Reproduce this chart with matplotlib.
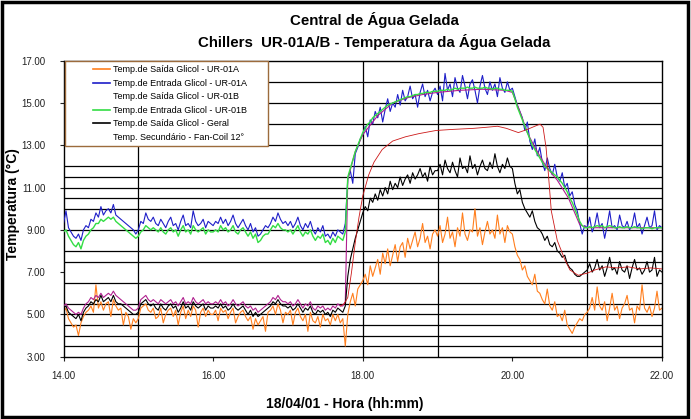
import numpy as np
import matplotlib
matplotlib.use("Agg")
import matplotlib.pyplot as plt
from matplotlib.lines import Line2D
from matplotlib.legend_handler import HandlerLine2D
from matplotlib.patches import Rectangle

plt.rcParams['font.family'] = ['Liberation Sans', 'DejaVu Sans']

# readings every 2 minutes, 14:00 .. 22:00
step_h = 2 / 60.0

saida_01a = [
    5.1, 5.3, 4.8, 4.6, 4.4, 4.5, 4.0, 4.6, 4.9, 5.1, 5.2, 5.4, 5.1, 6.4, 5.3, 5.6, 5.2, 5.5, 5.6, 4.9, 5.7, 5.4, 5.2, 5.3, 4.5, 5.1, 4.9, 4.3, 4.8, 4.6,
    4.8, 5.3, 5.4, 5.5, 5.2, 5.1, 5.3, 4.8, 4.9, 5.3, 4.6, 5.0, 5.2, 5.3, 4.9, 5.2, 4.5, 5.1, 5.4, 4.8, 5.2, 4.9, 5.4, 5.2, 4.4, 5.1, 5.3, 4.9, 5.2, 5.0,
    5.0, 5.2, 4.7, 5.3, 5.1, 5.2, 4.8, 5.1, 5.3, 4.6, 4.9, 5.1, 5.2, 4.9, 4.7, 4.9, 4.3, 4.8, 4.5, 4.7, 4.9, 4.2, 5.1, 5.2, 5.4, 5.0, 5.5, 5.2, 4.6, 5.1,
    5.0, 5.2, 4.5, 5.1, 5.3, 4.9, 4.7, 5.0, 4.2, 5.1, 4.7, 4.6, 4.9, 4.4, 5.0, 4.7, 4.8, 4.5, 5.0, 4.7, 5.0, 4.6, 4.8, 3.5, 5.0, 5.6, 6.0, 5.4, 6.2, 6.4,
    6.6, 6.9, 6.4, 7.3, 6.8, 7.2, 7.6, 6.9, 7.9, 7.4, 8.1, 7.3, 7.8, 8.3, 7.5, 8.2, 8.4, 7.7, 8.6, 8.1, 8.5, 8.9, 8.2, 8.6, 9.3, 8.4, 8.7, 8.1, 8.8, 9.0,
    8.7, 9.2, 8.4, 8.8, 9.6, 8.6, 8.9, 8.2, 9.1, 8.7, 9.8, 8.8, 8.5, 9.0, 8.9, 10.0, 8.7, 9.1, 8.3, 8.9, 9.4, 8.8, 9.0, 8.6, 9.7, 8.8, 9.1, 8.4, 9.2, 8.9,
    8.8, 8.2, 7.8, 7.6, 7.1, 7.3, 6.8, 6.6, 6.4, 6.9, 6.1, 6.0, 5.7, 5.5, 6.2, 5.4, 5.2, 5.6, 4.9, 5.0, 4.7, 5.2, 4.5, 4.3, 4.1, 4.4, 4.6, 4.8, 4.7, 5.0,
    5.1, 5.3, 5.8, 5.2, 6.3, 5.4, 5.2, 5.6, 4.7, 5.3, 6.0, 5.2, 5.4, 4.8, 5.3, 5.5, 5.9, 5.2, 5.3, 4.6, 5.4, 5.2, 6.4, 5.3, 5.1, 5.4, 4.9, 5.3, 6.1, 5.2,
    5.3]

entrada_01a = [
    9.3, 9.9, 9.1, 8.9, 8.7, 8.6, 8.8, 8.5, 9.0, 9.2, 9.1, 9.5, 9.4, 9.8, 9.6, 10.1, 9.7, 9.9, 10.0, 9.8, 10.2, 9.7, 9.6, 9.5, 9.4, 9.3, 9.2, 9.1, 9.0, 8.8,
    9.0, 9.4, 9.3, 9.8, 9.5, 9.4, 9.6, 9.3, 9.2, 9.5, 9.3, 9.1, 9.4, 9.6, 9.2, 9.3, 9.0, 9.4, 9.7, 9.2, 9.3, 9.1, 9.9, 9.4, 9.2, 9.3, 9.5, 9.1, 9.4, 9.3,
    9.2, 9.4, 9.3, 9.6, 9.3, 9.5, 9.2, 9.4, 9.7, 9.3, 9.1, 9.3, 9.5, 9.2, 9.0, 9.3, 8.9, 9.1, 8.7, 8.8, 9.0, 9.2, 9.1, 9.3, 9.6, 9.4, 9.8, 9.5, 9.3, 9.4,
    9.2, 9.4, 9.1, 9.3, 9.6, 9.2, 9.0, 9.3, 9.1, 9.4, 9.0, 8.8, 9.1, 8.9, 9.2, 8.7, 8.8, 8.6, 8.9, 8.7, 9.0, 8.9, 8.8, 9.3, 11.4, 11.8, 11.2, 12.6, 12.9, 13.3,
    13.5, 13.9, 13.4, 14.2, 14.0, 14.6, 14.3, 14.8, 14.1, 14.7, 15.2, 14.6, 15.0, 14.8, 15.4, 14.9, 15.6, 15.1, 15.3, 15.8, 15.2, 15.4, 14.8, 15.5, 15.9, 15.3, 15.6, 15.1, 15.5, 15.7,
    15.4, 15.8, 15.1, 16.4, 15.6, 15.9, 15.3, 16.2, 15.7, 15.5, 16.3, 15.8, 15.2, 15.9, 16.1, 15.6, 15.0, 15.8, 16.3, 15.7, 15.4, 16.0, 15.6, 15.9, 15.3, 16.2, 15.7, 15.5, 16.0, 15.6,
    15.7, 15.3, 14.9, 14.6, 14.3, 13.7, 14.1, 13.2, 12.8, 13.3, 12.5, 12.9, 12.2, 11.8, 12.4, 11.9, 11.6, 12.1, 11.5, 11.3, 11.7, 11.0, 11.2, 10.6, 10.8, 10.2, 9.9, 9.3, 8.8, 9.2,
    9.1, 9.6, 8.9, 9.2, 9.8, 9.1, 9.3, 8.6, 9.2, 9.9, 9.1, 9.2, 9.0, 9.7, 9.2, 9.1, 9.4, 9.0, 9.2, 9.8, 9.1, 9.3, 8.8, 9.2, 9.6, 9.1, 9.2, 9.9, 9.0, 9.2,
    9.1]

# saida UR-01B: 2-minute readings until 17:46, then sparse readings (runs under the green trace)
saida_01b_a = [
    5.4, 5.5, 5.3, 5.2, 5.1, 5.0, 5.1, 5.0, 5.3, 5.5, 5.6, 5.8, 5.7, 5.9, 5.8, 6.0, 5.8, 5.9, 6.0, 5.9, 6.1, 5.9, 5.8, 5.7, 5.6, 5.5, 5.4, 5.3, 5.2, 5.2,
    5.3, 5.7, 5.8, 5.9, 5.7, 5.6, 5.7, 5.6, 5.5, 5.7, 5.6, 5.5, 5.6, 5.7, 5.5, 5.6, 5.4, 5.6, 5.8, 5.5, 5.6, 5.5, 5.8, 5.6, 5.5, 5.6, 5.7, 5.5, 5.6, 5.5,
    5.5, 5.6, 5.5, 5.7, 5.5, 5.6, 5.4, 5.5, 5.7, 5.5, 5.4, 5.5, 5.6, 5.4, 5.3, 5.4, 5.2, 5.3, 5.1, 5.2, 5.3, 5.4, 5.5, 5.6, 5.8, 5.7, 5.9, 5.7, 5.6, 5.6,
    5.5, 5.6, 5.4, 5.5, 5.7, 5.5, 5.3, 5.5, 5.4, 5.6, 5.3, 5.2, 5.4, 5.3, 5.4, 5.2, 5.3, 5.2, 5.4, 5.3, 5.5, 5.4, 5.4, 5.6]
saida_01b_t2 = [17.8, 17.9, 18.0, 18.2, 18.4, 18.6, 18.8, 19.0, 19.3, 19.6, 19.9, 20.0, 20.1, 20.2, 20.3, 20.45, 20.6, 20.75, 20.9, 21.0, 21.5, 22.0]
saida_01b_v2 = [11.4, 12.7, 13.5, 14.4, 15.0, 15.25, 15.4, 15.5, 15.6, 15.65, 15.6, 15.5, 14.6, 13.6, 12.9, 12.0, 11.35, 10.5, 9.25, 9.1, 9.1, 9.1]

entrada_01b = [
    8.9, 9.0, 8.7, 8.5, 8.3, 8.2, 8.4, 8.1, 8.5, 8.7, 8.8, 9.0, 9.1, 9.3, 9.3, 9.5, 9.4, 9.5, 9.6, 9.5, 9.6, 9.4, 9.3, 9.2, 9.1, 9.0, 8.9, 8.8, 8.7, 8.6,
    8.7, 8.9, 9.0, 9.2, 9.1, 9.0, 9.1, 9.0, 8.9, 9.1, 8.9, 8.8, 9.0, 9.1, 8.9, 9.0, 8.7, 9.0, 9.2, 8.9, 9.0, 8.8, 9.2, 9.0, 8.9, 9.0, 9.1, 8.8, 9.0, 8.9,
    8.9, 9.0, 8.9, 9.2, 9.0, 9.1, 8.9, 9.0, 9.2, 8.9, 8.8, 9.0, 9.1, 8.9, 8.7, 8.9, 8.6, 8.8, 8.4, 8.5, 8.7, 8.8, 8.8, 9.0, 9.2, 9.1, 9.3, 9.1, 9.0, 9.0,
    8.9, 9.0, 8.8, 9.0, 9.2, 8.9, 8.7, 8.9, 8.8, 9.0, 8.7, 8.5, 8.7, 8.6, 8.8, 8.4, 8.5, 8.3, 8.6, 8.4, 8.7, 8.6, 8.5, 8.9, 11.5, 11.9, 12.3, 12.7, 13.0, 13.3,
    13.6, 13.8, 14.0, 14.1, 14.3, 14.4, 14.5, 14.6, 14.7, 14.8, 14.9, 14.95, 15.0, 15.05, 15.1, 15.15, 15.2, 15.25, 15.3, 15.3, 15.35, 15.4, 15.4, 15.45, 15.45, 15.5, 15.5, 15.5, 15.55, 15.55,
    15.55, 15.6, 15.6, 15.6, 15.65, 15.6, 15.65, 15.7, 15.65, 15.7, 15.7, 15.7, 15.75, 15.7, 15.7, 15.75, 15.7, 15.7, 15.7, 15.75, 15.7, 15.7, 15.65, 15.7, 15.7, 15.65, 15.65, 15.6, 15.6, 15.6,
    15.55, 15.2, 14.8, 14.5, 14.2, 13.9, 13.6, 13.3, 13.0, 12.8, 12.6, 12.4, 12.2, 12.0, 11.9, 11.8, 11.7, 11.6, 11.5, 11.35, 11.2, 11.0, 10.8, 10.5, 10.3, 10.0, 9.7, 9.4, 9.2, 9.1,
    9.1, 9.15, 9.1, 9.15, 9.2, 9.15, 9.2, 9.1, 9.15, 9.2, 9.15, 9.1, 9.1, 9.15, 9.1, 9.1, 9.15, 9.1, 9.1, 9.15, 9.1, 9.1, 9.05, 9.1, 9.1, 9.1, 9.05, 9.1, 9.1, 9.1,
    9.1]

saida_geral = [
    5.3, 5.4, 5.1, 5.0, 4.9, 4.8, 5.0, 4.7, 5.1, 5.3, 5.4, 5.6, 5.5, 5.7, 5.6, 5.9, 5.6, 5.7, 5.8, 5.6, 5.9, 5.6, 5.5, 5.5, 5.4, 5.3, 5.2, 5.1, 5.0, 5.0,
    5.1, 5.5, 5.6, 5.7, 5.5, 5.4, 5.5, 5.3, 5.2, 5.5, 5.3, 5.2, 5.4, 5.5, 5.3, 5.4, 5.1, 5.3, 5.6, 5.3, 5.4, 5.2, 5.6, 5.4, 5.3, 5.4, 5.5, 5.2, 5.4, 5.3,
    5.3, 5.4, 5.3, 5.5, 5.3, 5.4, 5.2, 5.3, 5.5, 5.3, 5.2, 5.3, 5.4, 5.2, 5.0, 5.2, 4.9, 5.1, 4.9, 5.0, 5.1, 5.2, 5.3, 5.4, 5.6, 5.5, 5.7, 5.5, 5.4, 5.4,
    5.3, 5.4, 5.2, 5.3, 5.5, 5.3, 5.1, 5.3, 5.2, 5.4, 5.1, 5.0, 5.2, 5.1, 5.2, 5.0, 5.1, 4.9, 5.2, 5.1, 5.3, 5.2, 5.1, 5.4, 6.8, 7.6, 8.1, 8.6, 9.0, 9.4,
    9.8, 10.1, 9.9, 10.5, 10.3, 10.7, 10.4, 10.9, 10.6, 11.0, 10.7, 11.3, 10.9, 11.2, 11.0, 11.5, 11.1, 11.4, 11.6, 11.2, 11.7, 11.4, 11.6, 11.9, 11.5, 11.7, 11.3, 12.0, 11.6, 11.8,
    11.8, 12.1, 11.6, 12.3, 11.9, 11.7, 12.2, 11.8, 11.5, 12.4, 11.9, 12.0, 11.7, 12.5, 11.9, 12.1, 11.6, 12.0, 12.3, 11.9, 11.8, 12.2, 11.9, 12.6, 12.0, 11.7, 12.1, 11.9, 12.4, 12.0,
    11.9, 11.2, 10.7, 10.9, 10.3, 10.0, 9.8, 9.6, 9.9, 9.4, 9.1, 9.0, 8.8, 8.5, 8.7, 8.3, 8.2, 8.4, 8.0, 7.9, 7.7, 7.8, 7.4, 7.2, 7.1, 6.9, 6.8, 6.8, 6.9, 7.0,
    7.1, 7.4, 7.0, 7.2, 7.6, 7.1, 7.3, 6.8, 7.2, 7.7, 7.1, 7.2, 6.9, 7.5, 7.1, 7.0, 7.3, 6.7, 7.2, 7.6, 7.1, 7.2, 6.9, 7.1, 7.5, 7.0, 7.1, 7.7, 6.8, 7.1,
    7.0]

fancoil_t = [17.70, 17.75, 17.80, 17.85, 17.90, 17.95, 18.00, 18.08, 18.15, 18.26, 18.40, 18.57, 18.75, 18.98,
             19.20, 19.48, 19.65, 19.80, 19.92, 20.00, 20.08, 20.20, 20.30, 20.37, 20.41, 20.45, 20.48, 20.52,
             20.60, 20.70, 20.77, 20.88, 21.00, 21.10, 21.25, 21.40, 21.55, 21.70, 21.85, 22.00]
fancoil_v = [5.4, 5.5, 5.8, 7.0, 8.4, 9.6, 10.6, 11.6, 12.2, 12.8, 13.2, 13.4, 13.55, 13.7,
             13.75, 13.8, 13.85, 13.9, 13.8, 13.7, 13.6, 13.75, 13.9, 14.0, 13.85, 12.9, 11.7, 9.9,
             8.5, 7.6, 7.1, 6.85, 6.95, 7.1, 7.25, 7.2, 7.25, 7.15, 7.2, 7.15]

labels = ["Temp.de Saída Glicol - UR-01A", "Temp.de Entrada Glicol - UR-01A",
          "Temp.de Saída Glicol - UR-01B", "Temp.de Entrada Glicol - UR-01B",
          "Temp.de Saída Glicol - Geral", "Temp. Secundário - Fan-Coil 12°"]

x_ticks = [14, 16, 18, 20, 22]
y_ticks = [3, 5, 7, 9, 11, 13, 15, 17]

# extra reference lines seen on the chart
h_lines = [16, 15, 14, 13, 12, 11.5, 11, 10.5, 10, 9, 8, 7.5, 6.5, 5.5, 5, 4.5, 4, 3.5]
v_lines = [15, 18, 19, 21]

def times(vals):
    return 14 + np.arange(len(vals)) * step_h

fig = plt.figure(figsize=(6.91, 4.19), dpi=100)
W, H = 691.0, 419.0
ax = fig.add_axes([63.5 / W, 1 - 356.7 / H, (662 - 63.5) / W, (356.7 - 60.7) / H])

for y in h_lines:
    ax.axhline(y, color='black', lw=0.9, zorder=1)
for x in v_lines:
    ax.axvline(x, color='black', lw=0.9, zorder=1)

lw = 0.8
ax.plot(times(saida_01a), saida_01a, color='#FF7F1E', lw=lw, label=labels[0], zorder=2)
ax.plot(times(entrada_01a), entrada_01a, color='#1E1EC8', lw=lw, label=labels[1], zorder=3)
t_b = list(times(saida_01b_a)) + saida_01b_t2
v_b = saida_01b_a + saida_01b_v2
ax.plot(t_b, v_b, color='#B0208F', lw=lw, label=labels[2], zorder=4)
ax.plot(times(entrada_01b), entrada_01b, color='#33DD44', lw=1.0, label=labels[3], zorder=5)
ax.plot(times(saida_geral), saida_geral, color='black', lw=lw, label=labels[4], zorder=6)
ax.plot(fancoil_t, fancoil_v, color='#CC1818', lw=0.6, label=labels[5], zorder=7)

ax.set_xlim(14, 22)
ax.set_ylim(3, 17)
ax.set_xticks(x_ticks)
ax.set_yticks(y_ticks)
ax.set_xticklabels(["%.2f" % v for v in x_ticks])
ax.set_yticklabels(["%.2f" % v for v in y_ticks])
ax.tick_params(axis='y', length=3, width=0.8, pad=10, labelsize=7, colors='#222222')
ax.tick_params(axis='x', length=3, width=0.8, pad=7, labelsize=7, colors='#222222')
for s in ax.spines.values():
    s.set_color('black')
    s.set_linewidth(1.0)

leg = ax.legend(loc='upper left', bbox_to_anchor=(0.0025, 0, 0.339, 1.0), mode='expand',
                borderaxespad=0, fontsize=6.5, borderpad=0.5, labelspacing=0.5,
                handlelength=4.5, handletextpad=0.33, framealpha=1, fancybox=False,
                edgecolor='#9C6B3C', handler_map={Line2D: HandlerLine2D(xpad=2.6)})
leg.get_frame().set_linewidth(1.0)
leg.set_zorder(10)
for i, ln in enumerate(leg.get_lines()):
    ln.set_linewidth(1.2)
    if i in (2, 5):
        ln.set_visible(False)

fig.text(374 / W, 1 - 20 / H, "Central de Água Gelada", ha='center', va='center',
         fontsize=10.8, fontweight='bold')
fig.text(374 / W, 1 - 42 / H, "Chillers  UR-01A/B - Temperatura da Água Gelada", ha='center',
         va='center', fontsize=10.8, fontweight='bold')
fig.text(13 / W, 1 - 204 / H, "Temperatura (°C)", rotation=90, ha='center', va='center',
         fontsize=10, fontweight='bold')
fig.text(345 / W, 1 - 404 / H, "18/04/01 - Hora (hh:mm)", ha='center', va='center',
         fontsize=10, fontweight='bold')

fig.patches.append(Rectangle((1.5 / W, 2 / H), 686 / W, 415 / H, transform=fig.transFigure,
                             fill=False, edgecolor='black', lw=2.5))

fig.savefig("out.png", dpi=100)
